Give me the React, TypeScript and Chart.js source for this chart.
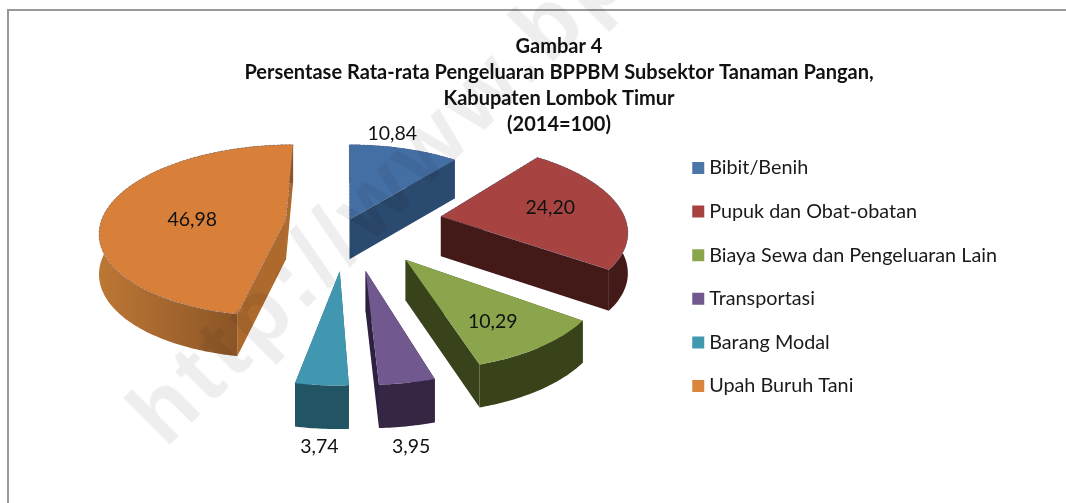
import React, { useEffect, useRef } from "react";
import { Chart, registerables } from "chart.js";

Chart.register(...registerables);

const categories = ["Bibit/Benih", "Pupuk dan Obat-obatan", "Biaya Sewa dan Pengeluaran Lain", "Transportasi", "Barang Modal", "Upah Buruh Tani"];
const shares = [10.84, 24.2, 10.29, 3.95, 3.74, 46.98];
const titleLines = ["Gambar 4", "Persentase Rata-rata Pengeluaran BPPBM Subsektor Tanaman Pangan,", "Kabupaten Lombok Timur", "(2014=100)"];
const watermark = "http://www.bps.go.id";

const legendColors = ["#4a76a9", "#a8423f", "#8aa64a", "#71588f", "#4198af", "#db843d"];
const topColors = ["#446fa5", "#a74442", "#8aa54b", "#71588f", "#4197b0", "#d87f3a"];
const wallLeft = ["#2b4a6f", "#431a18", "#39431a", "#352644", "#235463", "#bd7735"];
const wallRight = ["#2b4a6f", "#431a18", "#39431a", "#352644", "#235463", "#8b5526"];
const radialWall = ["#2b4a6f", "#431a18", "#38431b", "#2e2140", "#235463", "#ad6a2c"];
const explode = [6, 95, 95, 100, 100, 62];
const drawOrder = [0, 1, 5, 2, 4, 3];
const labelRadius = [1.15, 0.5, 0.55, 1.42, 1.42, 0.55];
const labelNudge = [[-19, -6], [20, -3], [17, 17], [-18, 5], [7, 2], [6, 5]];

const FONT = "Lato, Carlito, sans-serif";
const pivot = { x: 347.5, y: 222, Rx: 185, Ry: 85, persp: 0.13 };

const project = (u: number, v: number) => {
  const s = 1 / (1 - pivot.persp * v);
  return { x: pivot.x + pivot.Rx * u * s, y: pivot.y + pivot.Ry * v * s, depth: 40 + 14 * (s - 1) };
};

const pie3d = {
  id: "pie3d",
  beforeDatasetsDraw(chart: any) {
    const ctx = chart.ctx;
    const arcs = chart.getDatasetMeta(0).data;
    const geom = (arc: any) => {
      const p = arc.getProps(["startAngle", "endAngle", "outerRadius"], true);
      const mid = (p.startAngle + p.endAngle) / 2;
      const e = arc.options.offset / p.outerRadius;
      return { a: p.startAngle, b: p.endAngle, mid, ou: e * Math.cos(mid), ov: e * Math.sin(mid) };
    };
    const poly = (pts: { x: number; y: number }[], fill: any) => {
      ctx.beginPath();
      pts.forEach((q, i) => (i ? ctx.lineTo(q.x, q.y) : ctx.moveTo(q.x, q.y)));
      ctx.closePath();
      ctx.fillStyle = fill;
      ctx.fill();
    };
    const drop = (q: any) => ({ x: q.x, y: q.y + q.depth });
    drawOrder.forEach((i) => {
      const g = geom(arcs[i]);
      const apex = project(g.ou, g.ov);
      const n = Math.max(4, Math.ceil((g.b - g.a) / 0.015));
      const rim: any[] = [];
      for (let k = 0; k <= n; k++) {
        const t = g.a + ((g.b - g.a) * k) / n;
        rim.push(project(g.ou + Math.cos(t), g.ov + Math.sin(t)));
      }
      const start = rim[0];
      const end = rim[n];
      poly([apex, start, drop(start), drop(apex)], radialWall[i]);
      poly([apex, end, drop(end), drop(apex)], radialWall[i]);
      const xs = rim.map((q) => q.x);
      const grad = ctx.createLinearGradient(Math.min(...xs), 0, i === 5 ? start.x : Math.max(...xs), 0);
      grad.addColorStop(0, wallLeft[i]);
      grad.addColorStop(1, wallRight[i]);
      poly([...rim, ...rim.slice().reverse().map(drop)], grad);
      poly([apex, ...rim], topColors[i]);
      if (i === 0 || i === 1 || i === 5) {
        ctx.save();
        ctx.setLineDash([2, 2]);
        ctx.lineWidth = 1;
        ctx.strokeStyle = "rgba(90,105,140,0.55)";
        ctx.stroke();
        ctx.restore();
      }
    });
    return false;
  },
  afterDraw(chart: any) {
    const ctx = chart.ctx;
    const arcs = chart.getDatasetMeta(0).data;
    ctx.save();
    ctx.font = `19.5px ${FONT}`;
    ctx.fillStyle = "#111";
    ctx.textAlign = "center";
    ctx.textBaseline = "middle";
    arcs.forEach((arc: any, i: number) => {
      const p = arc.getProps(["startAngle", "endAngle", "outerRadius"], true);
      const mid = (p.startAngle + p.endAngle) / 2;
      const f = arc.options.offset / p.outerRadius + labelRadius[i];
      const q = project(f * Math.cos(mid), f * Math.sin(mid));
      ctx.fillText(shares[i].toFixed(2).replace(".", ","), q.x + labelNudge[i][0], q.y + labelNudge[i][1]);
    });
    ctx.restore();
  },
};

export default function App() {
  const ref = useRef<HTMLCanvasElement>(null);
  useEffect(() => {
    const chart = new Chart(ref.current!, {
      type: "pie",
      plugins: [pie3d],
      data: {
        labels: categories,
        datasets: [{ data: shares, backgroundColor: legendColors, borderWidth: 0, offset: explode, radius: pivot.Rx } as any],
      },
      options: {
        animation: false,
        responsive: false,
        events: [],
        layout: { padding: { left: 111, right: 59, top: 0, bottom: 67 } },
        plugins: {
          tooltip: { enabled: false },
          title: {
            display: true,
            text: titleLines,
            color: "#111",
            font: { family: FONT, size: 20, weight: "bold", lineHeight: 26 / 20 },
            padding: { top: 34, bottom: -20 },
          },
          legend: {
            position: "right",
            fullSize: false,
            labels: {
              boxWidth: 2,
              boxHeight: 2,
              padding: 23.8,
              color: "#1a1a1a",
              font: { family: FONT, size: 19.8 },
              generateLabels(chart: any) {
                return Chart.overrides.pie.plugins.legend.labels
                  .generateLabels(chart)
                  .map((item: any) => ({ ...item, lineWidth: 10, strokeStyle: item.fillStyle }));
              },
            },
          },
        },
      },
    } as any);
    return () => chart.destroy();
  }, []);
  return (
    <div style={{ position: "absolute", left: 0, top: 0, width: 1066, height: 503, overflow: "hidden", background: "#fff" }}>
      <canvas ref={ref} width={1066} height={503} style={{ position: "absolute", left: 0, top: 0 }} />
      <div style={{ position: "absolute", left: 7, top: 9, width: 1070, height: 510, borderLeft: "2px solid #999", borderTop: "2px solid #999" }} />
      <div
        style={{
          position: "absolute",
          left: 144,
          top: 376,
          whiteSpace: "nowrap",
          font: `bold 90px "Liberation Sans", sans-serif`,
          letterSpacing: 5.5,
          color: "#eeeeee",
          mixBlendMode: "multiply",
          transform: "rotate(-45deg)",
          transformOrigin: "0 50%",
        }}
      >
        {watermark}
      </div>
    </div>
  );
}
